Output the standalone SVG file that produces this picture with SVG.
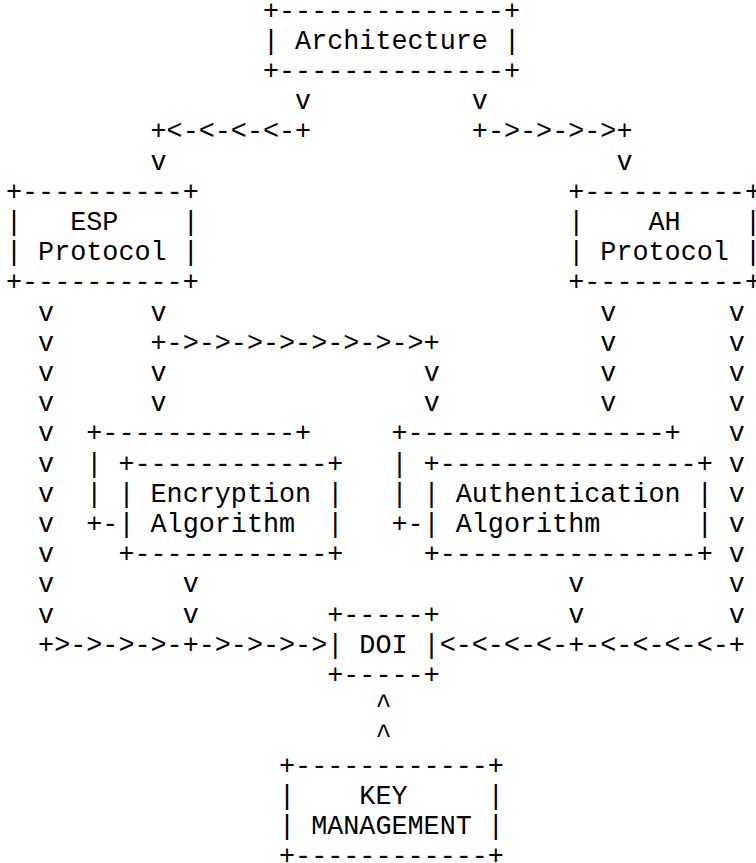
<svg xmlns="http://www.w3.org/2000/svg" width="756" height="863" viewBox="0 0 756 863">
<style>
text{font-family:"Liberation Mono","Courier New","DejaVu Sans Mono",monospace;font-size:26.77px;fill:#000;white-space:pre}
</style>
<rect x="0" y="0" width="756" height="863" fill="#fff"/>
<g id="connectors" xml:space="preserve">
<text x="295.12" y="109.2">v</text>
<text x="471.83" y="109.2">v</text>
<text x="150.55" y="139.4">+&lt;-&lt;-&lt;-&lt;-+</text>
<text x="471.83" y="139.4">+-&gt;-&gt;-&gt;-&gt;+</text>
<text x="150.55" y="169.6">v</text>
<text x="616.40" y="169.6">v</text>
<text x="38.10" y="320.6">v      v</text>
<text x="600.34" y="320.6">v       v</text>
<text x="38.10" y="350.8">v      +-&gt;-&gt;-&gt;-&gt;-&gt;-&gt;-&gt;-&gt;+</text>
<text x="600.34" y="350.8">v       v</text>
<text x="38.10" y="381.0">v      v</text>
<text x="423.63" y="381.0">v</text>
<text x="600.34" y="381.0">v       v</text>
<text x="38.10" y="411.2">v      v</text>
<text x="423.63" y="411.2">v</text>
<text x="600.34" y="411.2">v       v</text>
<text x="38.10" y="441.4">v</text>
<text x="728.85" y="441.4">v</text>
<text x="38.10" y="471.6">v</text>
<text x="728.85" y="471.6">v</text>
<text x="38.10" y="501.8">v</text>
<text x="728.85" y="501.8">v</text>
<text x="38.10" y="532.0">v</text>
<text x="728.85" y="532.0">v</text>
<text x="38.10" y="562.2">v</text>
<text x="728.85" y="562.2">v</text>
<text x="38.10" y="592.4">v        v</text>
<text x="568.21" y="592.4">v         v</text>
<text x="38.10" y="622.6">v        v</text>
<text x="568.21" y="622.6">v         v</text>
<text x="38.10" y="652.8">+&gt;-&gt;-&gt;-&gt;-+-&gt;-&gt;-&gt;-&gt;</text>
<text x="439.70" y="652.8">&lt;-&lt;-&lt;-&lt;-+-&lt;-&lt;-&lt;-&lt;-+</text>
<text x="375.44" y="713.2">^</text>
<text x="375.44" y="743.4">^</text>
</g>
<g id="architecture" xml:space="preserve">
<text x="263.0" y="18.6">+--------------+</text>
<text x="263.0" y="48.8">| Architecture |</text>
<text x="263.0" y="79.0">+--------------+</text>
</g>
<g id="esp-protocol" xml:space="preserve">
<text x="5.97" y="199.8">+----------+</text>
<text x="5.97" y="230.0">|   ESP    |</text>
<text x="5.97" y="260.2">| Protocol |</text>
<text x="5.97" y="290.4">+----------+</text>
</g>
<g id="ah-protocol" xml:space="preserve">
<text x="568.21" y="199.8">+----------+</text>
<text x="568.21" y="230.0">|    AH    |</text>
<text x="568.21" y="260.2">| Protocol |</text>
<text x="568.21" y="290.4">+----------+</text>
</g>
<g id="encryption-algorithm" xml:space="preserve">
<text x="86.29" y="441.4">+------------+</text>
<text x="86.29" y="471.6">| +------------+</text>
<text x="86.29" y="501.8">| | Encryption |</text>
<text x="86.29" y="532.0">+-| Algorithm  |</text>
<text x="118.42" y="562.2">+------------+</text>
</g>
<g id="authentication-algorithm" xml:space="preserve">
<text x="391.51" y="441.4">+----------------+</text>
<text x="391.51" y="471.6">| +----------------+</text>
<text x="391.51" y="501.8">| | Authentication |</text>
<text x="391.51" y="532.0">+-| Algorithm      |</text>
<text x="423.63" y="562.2">+----------------+</text>
</g>
<g id="doi" xml:space="preserve">
<text x="327.25" y="622.6">+-----+</text>
<text x="327.25" y="652.8">| DOI |</text>
<text x="327.25" y="683.0">+-----+</text>
</g>
<g id="key-management" xml:space="preserve">
<text x="279.06" y="773.6">+------------+</text>
<text x="279.06" y="803.8">|    KEY     |</text>
<text x="279.06" y="834.0">| MANAGEMENT |</text>
<text x="279.06" y="864.2">+------------+</text>
</g>
</svg>
